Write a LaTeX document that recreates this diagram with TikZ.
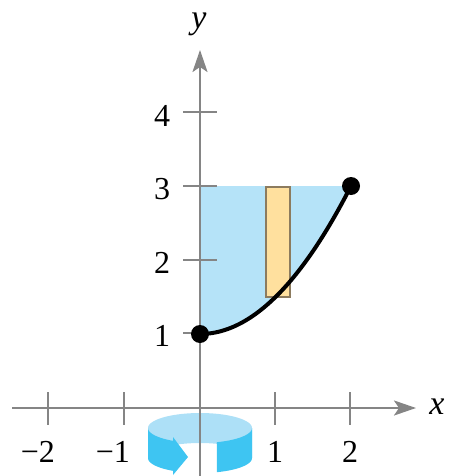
\documentclass[tikz,border=0pt]{standalone}
\usepackage{fontspec}
\setmainfont{Liberation Serif}
\usetikzlibrary{arrows.meta}
\definecolor{regionblue}{HTML}{B5E3F8}
\definecolor{ringback}{HTML}{ADE0F7}
\definecolor{ringfront}{HTML}{3EC5F2}
\definecolor{axisgray}{HTML}{858585}
\definecolor{rectfill}{HTML}{FFE09E}
\definecolor{rectedge}{HTML}{8C7B5E}
\tikzset{
  axisline/.style={draw=axisgray, line width=2.4pt, -{Stealth[length=22pt,width=15pt,inset=5pt]}},
  tickline/.style={draw=axisgray, line width=2.2pt},
  ticklabel/.style={font=\fontsize{32}{34}\selectfont, inner sep=0pt},
  axislabel/.style={font=\fontsize{34}{36}\selectfont\itshape, inner sep=0pt},
  curveline/.style={line width=4pt, black},
  enddot/.style={circle, fill=black, minimum size=18pt, inner sep=0pt},
  slab/.style={fill=rectfill, draw=rectedge, line width=1.2pt}
}
\begin{document}
\begin{tikzpicture}[x=1pt,y=-1pt]
\useasboundingbox (0,0) rectangle (451,476);
% shaded region
\fill[regionblue] (200,186) -- (351,186)
  -- plot[domain=2:0, samples=40, variable=\t] ({200+75.5*\t},{408-74*(1+\t*\t/2)}) -- cycle;
% rotation ring: back inner surface
\fill[ringback] plot[domain=180:0, samples=40, variable=\t] ({200+52*cos(\t)},{428-15*sin(\t)})
  -- plot[domain=0:180, samples=40, variable=\t] ({200+52*cos(\t)},{458-15*sin(\t)}) -- cycle;
% front left piece with arrowhead
\fill[ringfront] plot[domain=180:239, samples=30, variable=\t] ({200+52*cos(\t)},{428-15*sin(\t)})
  -- (173,437) -- (188,457) -- (173,475)
  -- plot[domain=239:180, samples=30, variable=\t] ({200+52*cos(\t)},{458-15*sin(\t)}) -- cycle;
% front right piece
\fill[ringfront] plot[domain=289:360, samples=30, variable=\t] ({200+52*cos(\t)},{428-15*sin(\t)})
  -- plot[domain=360:289, samples=30, variable=\t] ({200+52*cos(\t)},{458-15*sin(\t)}) -- cycle;
% axes
\coordinate (xs) at (12,408);
\coordinate (xe) at (416,408);
\coordinate (ys) at (200,476);
\coordinate (ye) at (200,50);
\draw[axisline] (xs) -- (xe);
\draw[axisline] (ys) -- (ye);
% x ticks
\foreach \i/\px in {m2/48,m1/124,p1/275,p2/350}{
  \coordinate (xt\i a) at (\px,392);
  \coordinate (xt\i b) at (\px,425);
  \draw[tickline] (xt\i a) -- (xt\i b);
}
% y ticks
\foreach \i/\py in {1/333,2/260,3/186,4/112}{
  \coordinate (yt\i a) at (183,\py);
  \coordinate (yt\i b) at (217,\py);
  \draw[tickline] (yt\i a) -- (yt\i b);
}
% slab
\draw[slab] (266,187) rectangle (290,297);
% curve
\draw[curveline] plot[domain=0:2, samples=50, variable=\t] ({200+75.5*\t},{408-74*(1+\t*\t/2)});
\node[enddot] (d1) at (200,334) {};
\node[enddot] (d2) at (351,186) {};
% labels
\node[ticklabel] (lx2) at (350,452) {2};
\node[ticklabel] (lx1) at (275,452) {1};
\node[ticklabel, anchor=east] (lxm1) at (130,452) {\char"2212 1};
\node[ticklabel, anchor=east] (lxm2) at (55,452) {\char"2212 2};
\node[ticklabel] (ly1) at (162,336) {1};
\node[ticklabel] (ly2) at (162,263) {2};
\node[ticklabel] (ly3) at (162,189) {3};
\node[ticklabel] (ly4) at (162,116) {4};
\node[axislabel] (xl) at (437,407) {x};
\node[axislabel] (yl) at (199,24) {y};
\end{tikzpicture}
\end{document}
